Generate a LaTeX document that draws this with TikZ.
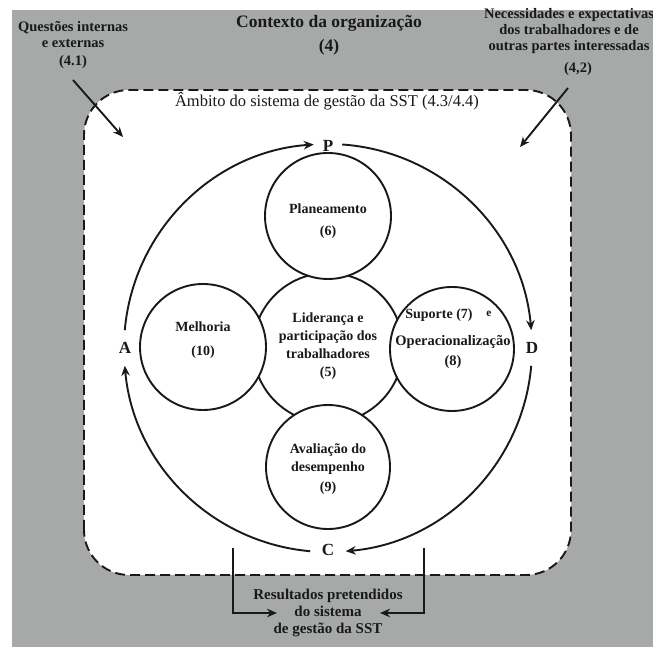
\documentclass[tikz,border=0pt]{standalone}
\usepackage{fontspec}
\setmainfont{Liberation Serif}
\usetikzlibrary{arrows.meta}
\definecolor{bg}{RGB}{167,169,169}
\definecolor{ink}{RGB}{25,25,25}
\begin{document}
\begin{tikzpicture}[x=1pt,y=1pt,
  arr/.style={line width=1.9pt,draw=ink,-{Stealth[length=10pt,width=8.5pt]}},
  circ/.style={circle,draw=ink,line width=1.9pt,fill=white,inner sep=0pt},
  intxt/.style={font=\bfseries\fontsize{14}{18}\selectfont,align=center,text=ink,inner sep=0pt},
  sidetxt/.style={font=\bfseries\fontsize{14.5}{16}\selectfont,align=center,text=ink,inner sep=0pt},
  pdca/.style={font=\bfseries\fontsize{17}{18}\selectfont,text=ink,inner sep=1pt}
]
\useasboundingbox (0,0) rectangle (653,647);
\fill[bg] (12,0) rectangle (653,637);
\draw[fill=white,draw=ink,line width=1.9pt,dash pattern=on 10pt off 5pt,rounded corners=45pt] (84,72) rectangle (571,557);

% top texts
\node[font=\bfseries\fontsize{17.5}{20}\selectfont,text=ink] (ctx) at (329,624) {Contexto da organização};
\node[font=\bfseries\fontsize{17.5}{20}\selectfont,text=ink] (ctxn) at (329,600) {(4)};
\node[sidetxt] (q41) at (73,602) {Questões internas\\e externas\\[2pt](4.1)};
\node[sidetxt] (nec) at (569,616) {Necessidades e expectativas\\dos trabalhadores e de\\outras partes interessadas};
\node[sidetxt] (n42) at (578,578) {(4,2)};
\coordinate (a41s) at (73,567);
\coordinate (a41e) at (123,510);
\coordinate (a42s) at (568,559);
\coordinate (a42e) at (520,500);
\draw[arr] (a41s) -- (a41e);
\draw[arr] (a42s) -- (a42e);

\node[font=\fontsize{16.5}{18}\selectfont,text=ink] (amb) at (327,546) {Âmbito do sistema de gestão da SST (4.3/4.4)};

% PDCA cycle
\coordinate (O) at (328,299);
\node[pdca] (P) at (328,501) {P};
\node[pdca] (D) at (532,299) {D};
\node[pdca] (C) at (328,97) {C};
\node[pdca] (A) at (125,299) {A};
\draw[arr] ([shift={(175:204pt)}]O) arc[start angle=175,end angle=94,radius=204pt];
\draw[arr] ([shift={(86:204pt)}]O) arc[start angle=86,end angle=5,radius=204pt];
\draw[arr] ([shift={(-5:204pt)}]O) arc[start angle=-5,end angle=-85,radius=204pt];
\draw[arr] ([shift={(-95:204pt)}]O) arc[start angle=-95,end angle=-175,radius=204pt];

% circles
\node[circ,minimum size=150pt] (c5) at (328,299) {};
\node[circ,minimum size=126pt] (c6) at (328,431) {};
\node[circ,minimum size=124pt] (c9) at (328,180) {};
\node[circ,minimum size=126pt] (c10) at (203,300) {};
\node[circ,minimum size=124pt] (c78) at (452,298) {};

\node[intxt] (t5) at (328,301) {Liderança e\\participação dos\\trabalhadores\\(5)};
\node[intxt] (t6) at (328,426) {Planeamento\\[4pt](6)};
\node[intxt] (t10) at (203,307) {Melhoria\\[6pt](10)};
\node[intxt] (t9) at (328,178) {Avaliação do\\desempenho\\[2pt](9)};
\node[intxt] (t7) at (439,332) {Suporte (7)};
\node[intxt,font=\bfseries\fontsize{11.5}{12}\selectfont] (te) at (489,333) {e};
\node[intxt,font=\bfseries\fontsize{14.5}{18}\selectfont] (t8) at (453,295) {Operacionalização\\[2pt](8)};

% results
\node[sidetxt,font=\bfseries\fontsize{15}{17}\selectfont] (res) at (328,34) {Resultados pretendidos\\do sistema\\de gestão da SST};
\coordinate (lbs) at (233,99);
\coordinate (lbe) at (277,34);
\coordinate (rbs) at (424,99);
\coordinate (rbe) at (380,34);
\draw[arr] (lbs) |- (lbe);
\draw[arr] (rbs) |- (rbe);
\end{tikzpicture}
\end{document}
